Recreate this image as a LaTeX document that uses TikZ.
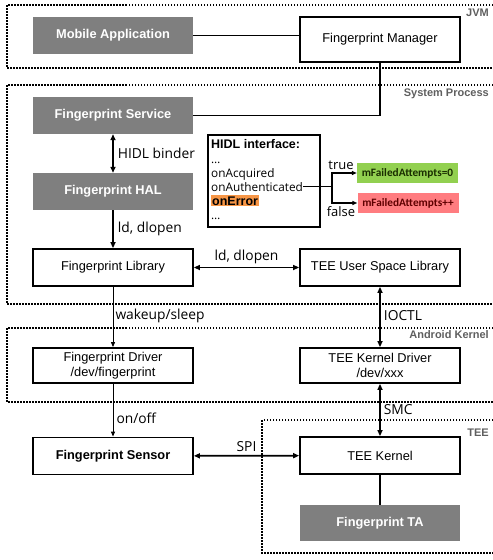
\documentclass[tikz,border=0pt]{standalone}
\usepackage{fontspec}
\setmainfont{Liberation Sans}
\newfontfamily\lblfont{Open Sans}
\newfontfamily\tagfont{Carlito}
\usetikzlibrary{arrows.meta}

\definecolor{boxgray}{RGB}{127,127,127}
\definecolor{zonegray}{RGB}{95,95,95}
\definecolor{okgreen}{RGB}{146,208,80}
\definecolor{failred}{RGB}{255,124,128}
\definecolor{errorange}{RGB}{247,150,70}
\definecolor{oktext}{RGB}{25,45,0}
\definecolor{failtext}{RGB}{95,0,0}

\begin{document}
\begin{tikzpicture}[x=1pt,y=-1pt,
  comp/.style={draw=black, line width=1.8pt, fill=white, minimum width=160pt,
    minimum height=37pt, inner sep=0pt, align=center,
    font=\fontsize{12.8}{15}\selectfont},
  compbold/.style={comp, font=\fontsize{12.8}{15}\selectfont\bfseries},
  app/.style={fill=boxgray, text=white, minimum width=160pt, minimum height=37pt,
    inner sep=0pt, font=\fontsize{12.8}{15}\selectfont\bfseries},
  zone/.style={line width=1.5pt, dash pattern=on 1.5pt off 1.5pt},
  zonelabel/.style={anchor=east, inner sep=0pt, text=zonegray,
    font=\fontsize{11}{13}\selectfont\bfseries},
  lbl/.style={inner sep=0pt, font=\lblfont\fontsize{13.8}{16}\selectfont},
  iface/.style={anchor=base west, inner sep=0pt, font=\lblfont\fontsize{11.8}{14}\selectfont},
  tag/.style={minimum width=101pt, minimum height=20pt, inner sep=0pt,
    font=\tagfont\fontsize{11.3}{13}\selectfont\bfseries},
  link/.style={line width=1.3pt},
  thinarrow/.style={line width=1pt, -{Triangle[length=5pt,width=4pt]}},
  bus/.style={line width=1.8pt, -{Triangle[length=6pt,width=5pt]}},
  dbus/.style={line width=1.8pt, {Triangle[length=6pt,width=5pt]}-{Triangle[length=6pt,width=5pt]}},
  branch/.style={line width=1.5pt, -{Triangle[length=5pt,width=4pt]}}
]
\useasboundingbox (0,0) rectangle (493,560);

% dotted zones (open towards the right edge)
\draw[zone] (493,5) -| (7,68) -- (493,68);
\draw[zone] (493,85) -| (7,304) -- (493,304);
\draw[zone] (493,328) -| (7,402) -- (493,402);
\draw[zone] (493,420) -| (262,553) -- (493,553);

\node[zonelabel] (zjvm) at (489,13) {JVM};
\node[zonelabel] (zsys) at (489,94) {System Process};
\node[zonelabel] (zkern) at (489,335) {Android Kernel};
\node[zonelabel] (ztee) at (489,433) {TEE};

% components
\node[app] (mobile) at (113,35.5) {Mobile Application};
\node[comp, minimum height=45pt] (manager) at (380,39.5) {Fingerprint Manager};
\node[app] (service) at (113,115.5) {Fingerprint Service};
\node[app] (hal) at (113,191.5) {Fingerprint HAL};
\node[comp] (fplib) at (113,267.5) {Fingerprint Library};
\node[comp] (teelib) at (380,267.5) {TEE User Space Library};
\node[comp, minimum height=35pt] (fpdrv) at (113,365.5) {Fingerprint Driver\\/dev/fingerprint};
\node[comp, minimum height=35pt] (teedrv) at (380,365.5) {TEE Kernel Driver\\/dev/xxx};
\node[compbold] (sensor) at (113,456) {Fingerprint Sensor};
\node[comp] (teek) at (380,455.5) {TEE Kernel};
\node[app, minimum height=36pt] (ta) at (380,523) {Fingerprint TA};

% HIDL interface listing
\node[draw=black, line width=1.8pt, minimum width=112pt, minimum height=92pt,
  inner sep=0pt, anchor=north west] (hidl) at (207,134) {};
\node[anchor=base west, inner sep=0pt, font=\fontsize{12.5}{15}\selectfont\bfseries]
  (hdr) at (211,148) {HIDL interface:};
\node[iface] (dots1) at (211,163) {\dots};
\node[iface] (acq) at (211,177) {onAcquired};
\node[iface] (auth) at (211,191) {onAuthenticated};
\node[anchor=base west, fill=errorange, inner sep=1pt,
  font=\fontsize{12.5}{15}\selectfont\bfseries] (err) at (211,205) {onError};
\node[iface] (dots2) at (211,219) {\dots};

\node[tag, fill=okgreen, text=oktext] (okbox) at (407.5,173) {mFailedAttempts=0};
\node[tag, fill=failred, text=failtext] (failbox) at (408,203) {mFailedAttempts++};

\path (auth.east) ++(29,0) coordinate (fork);
\draw[line width=1.5pt] (auth.east) -- (fork);
\draw[branch] (fork) |- (okbox.west);
\draw[branch] (fork) |- (failbox.west);
\node[lbl, font=\lblfont\fontsize{13}{15}\selectfont] (ltrue) at (341,165) {true};
\node[lbl, font=\lblfont\fontsize{13}{15}\selectfont] (lfalse) at (341,212) {false};

% connectors
\draw[link] (mobile.east) -- (mobile.east -| manager.west);
\draw[link] (manager.south) |- (service.east);
\draw[dbus] (service) -- (hal)
  node[lbl, midway, anchor=west, xshift=4pt] (lbinder) {HIDL binder};
\draw[bus] (hal) -- (fplib)
  node[lbl, midway, anchor=west, xshift=4pt] (ldl1) {ld, dlopen};
\draw[dbus] (fplib) -- (teelib)
  node[lbl, midway, anchor=south, yshift=3pt] (ldl2) {ld, dlopen};
\draw[thinarrow] (fplib) -- (fpdrv)
  node[lbl, pos=0.48, anchor=west, xshift=2pt] (lwake) {wakeup/sleep};
\draw[dbus] (teelib) -- (teedrv)
  node[lbl, pos=0.48, anchor=west, xshift=3pt] (lioctl) {IOCTL};
\draw[thinarrow] (fpdrv) -- (sensor)
  node[lbl, pos=0.66, anchor=west, xshift=3pt] (lonoff) {on/off};
\draw[dbus] (teedrv) -- (teek)
  node[lbl, pos=0.5, anchor=west, xshift=3pt] (lsmc) {SMC};
\draw[dbus] (sensor) -- (teek)
  node[lbl, midway, anchor=south, yshift=3pt] (lspi) {SPI};
\draw[line width=1.8pt] (teek) -- (ta);
\end{tikzpicture}
\end{document}
